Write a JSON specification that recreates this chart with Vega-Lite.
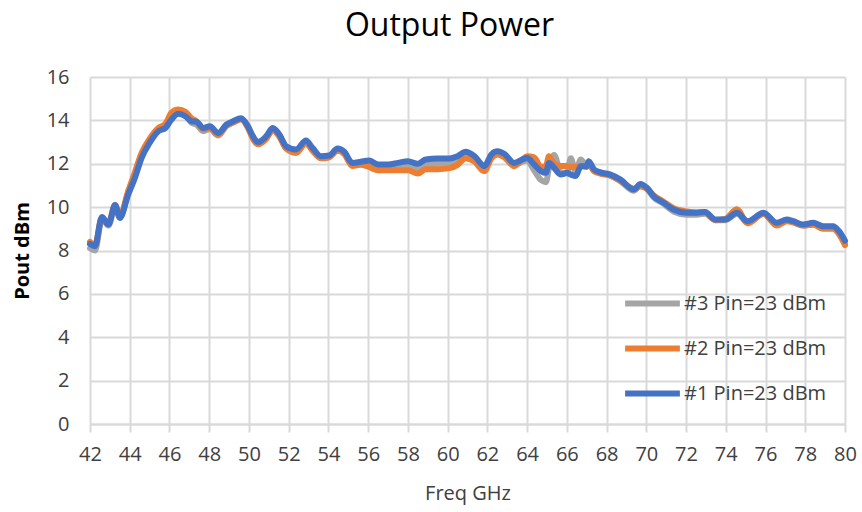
{
  "$schema": "https://vega.github.io/schema/vega-lite/v6.json",
  "autosize": "none",
  "width": 755,
  "height": 347,
  "padding": {"left": 90, "top": 77, "right": 17, "bottom": 88},
  "background": "white",
  "config": {
    "view": {"stroke": null},
    "font": "Open Sans"
  },
  "title": {
    "text": "Output Power",
    "fontSize": 32,
    "font": "Open Sans",
    "fontWeight": "normal",
    "color": "#000000",
    "anchor": "middle",
    "dx": -18,
    "offset": 24
  },
  "data": {
    "values": [
      {"f":42.0,"b":8.3,"o":8.4,"g":8.1},
      {"f":42.25,"b":8.2,"o":8.25,"g":8.0},
      {"f":42.6,"b":9.55,"o":9.5,"g":9.45},
      {"f":42.93,"b":9.2,"o":9.25,"g":9.15},
      {"f":43.26,"b":10.1,"o":10.1,"g":10.0},
      {"f":43.5,"b":9.5,"o":9.6,"g":9.55},
      {"f":43.93,"b":10.6,"o":10.75,"g":10.7},
      {"f":44.26,"b":11.35,"o":11.6,"g":11.55},
      {"f":44.6,"b":12.27,"o":12.5,"g":12.45},
      {"f":45.0,"b":12.96,"o":13.15,"g":13.1},
      {"f":45.44,"b":13.5,"o":13.65,"g":13.6},
      {"f":45.8,"b":13.65,"o":13.85,"g":13.75},
      {"f":46.1,"b":14.04,"o":14.35,"g":14.2},
      {"f":46.44,"b":14.3,"o":14.5,"g":14.35},
      {"f":46.8,"b":14.19,"o":14.4,"g":14.25},
      {"f":47.1,"b":13.96,"o":14.1,"g":13.9},
      {"f":47.37,"b":13.93,"o":13.95,"g":13.8},
      {"f":47.7,"b":13.65,"o":13.6,"g":13.5},
      {"f":48.03,"b":13.73,"o":13.65,"g":13.6},
      {"f":48.45,"b":13.42,"o":13.35,"g":13.3},
      {"f":48.87,"b":13.81,"o":13.75,"g":13.75},
      {"f":49.2,"b":13.96,"o":13.9,"g":13.9},
      {"f":49.6,"b":14.1,"o":14.05,"g":14.05},
      {"f":49.95,"b":13.73,"o":13.65,"g":13.7},
      {"f":50.2,"b":13.27,"o":13.15,"g":13.2},
      {"f":50.45,"b":13.0,"o":12.9,"g":12.95},
      {"f":50.87,"b":13.27,"o":13.15,"g":13.2},
      {"f":51.2,"b":13.65,"o":13.55,"g":13.6},
      {"f":51.53,"b":13.35,"o":13.25,"g":13.3},
      {"f":51.87,"b":12.81,"o":12.7,"g":12.75},
      {"f":52.37,"b":12.66,"o":12.5,"g":12.6},
      {"f":52.87,"b":13.07,"o":12.95,"g":13.0},
      {"f":53.2,"b":12.73,"o":12.6,"g":12.65},
      {"f":53.62,"b":12.35,"o":12.25,"g":12.3},
      {"f":54.04,"b":12.38,"o":12.3,"g":12.35},
      {"f":54.46,"b":12.7,"o":12.6,"g":12.65},
      {"f":54.8,"b":12.55,"o":12.45,"g":12.5},
      {"f":55.2,"b":12.04,"o":11.9,"g":11.95},
      {"f":55.62,"b":12.09,"o":11.95,"g":12.0},
      {"f":56.04,"b":12.15,"o":11.85,"g":12.0},
      {"f":56.5,"b":11.97,"o":11.7,"g":11.85},
      {"f":57.0,"b":11.97,"o":11.7,"g":11.85},
      {"f":57.5,"b":12.04,"o":11.7,"g":11.9},
      {"f":58.0,"b":12.12,"o":11.7,"g":11.95},
      {"f":58.5,"b":12.0,"o":11.55,"g":11.8},
      {"f":58.9,"b":12.2,"o":11.75,"g":11.95},
      {"f":59.5,"b":12.24,"o":11.75,"g":12.0},
      {"f":60.1,"b":12.24,"o":11.8,"g":12.05},
      {"f":60.5,"b":12.35,"o":11.95,"g":12.15},
      {"f":60.9,"b":12.55,"o":12.25,"g":12.4},
      {"f":61.35,"b":12.35,"o":12.1,"g":12.2},
      {"f":61.85,"b":11.89,"o":11.66,"g":11.75},
      {"f":62.2,"b":12.43,"o":12.25,"g":12.3},
      {"f":62.5,"b":12.58,"o":12.43,"g":12.5},
      {"f":62.85,"b":12.46,"o":12.3,"g":12.35},
      {"f":63.35,"b":12.04,"o":11.89,"g":11.95},
      {"f":63.77,"b":12.2,"o":12.2,"g":12.1},
      {"f":64.0,"b":12.27,"o":12.35,"g":12.15},
      {"f":64.35,"b":11.97,"o":12.3,"g":11.7},
      {"f":64.7,"b":11.66,"o":11.85,"g":11.25},
      {"f":64.95,"b":11.58,"o":11.9,"g":11.15},
      {"f":65.1,"b":12.04,"o":12.35,"g":11.8},
      {"f":65.36,"b":11.81,"o":12.0,"g":12.4},
      {"f":65.7,"b":11.5,"o":11.9,"g":11.6},
      {"f":66.0,"b":11.58,"o":11.9,"g":11.55},
      {"f":66.2,"b":11.5,"o":11.85,"g":12.25},
      {"f":66.45,"b":11.43,"o":11.85,"g":11.6},
      {"f":66.7,"b":11.89,"o":11.9,"g":12.2},
      {"f":67.0,"b":11.89,"o":11.85,"g":11.9},
      {"f":67.1,"b":12.12,"o":12.0,"g":12.0},
      {"f":67.37,"b":11.74,"o":11.65,"g":11.7},
      {"f":67.7,"b":11.6,"o":11.55,"g":11.55},
      {"f":68.2,"b":11.5,"o":11.45,"g":11.45},
      {"f":68.7,"b":11.27,"o":11.2,"g":11.2},
      {"f":69.37,"b":10.81,"o":10.85,"g":10.75},
      {"f":69.7,"b":11.07,"o":10.95,"g":11.0},
      {"f":70.03,"b":10.89,"o":10.85,"g":10.85},
      {"f":70.37,"b":10.5,"o":10.55,"g":10.45},
      {"f":70.87,"b":10.2,"o":10.25,"g":10.15},
      {"f":71.37,"b":9.89,"o":9.95,"g":9.8},
      {"f":72.04,"b":9.74,"o":9.8,"g":9.65},
      {"f":72.55,"b":9.74,"o":9.75,"g":9.65},
      {"f":72.96,"b":9.78,"o":9.75,"g":9.7},
      {"f":73.47,"b":9.43,"o":9.4,"g":9.4},
      {"f":73.97,"b":9.43,"o":9.45,"g":9.4},
      {"f":74.56,"b":9.74,"o":9.9,"g":9.7},
      {"f":75.1,"b":9.35,"o":9.25,"g":9.3},
      {"f":75.9,"b":9.74,"o":9.7,"g":9.7},
      {"f":76.56,"b":9.28,"o":9.15,"g":9.2},
      {"f":77.07,"b":9.43,"o":9.35,"g":9.4},
      {"f":77.4,"b":9.35,"o":9.3,"g":9.3},
      {"f":77.9,"b":9.2,"o":9.15,"g":9.15},
      {"f":78.4,"b":9.28,"o":9.2,"g":9.2},
      {"f":78.9,"b":9.12,"o":9.0,"g":9.05},
      {"f":79.4,"b":9.12,"o":9.0,"g":9.05},
      {"f":79.7,"b":8.89,"o":8.75,"g":8.8},
      {"f":80.0,"b":8.45,"o":8.25,"g":8.3}
    ]
  },
  "transform": [
    {"fold": ["g", "o", "b"], "as": ["s", "p"]}
  ],
  "encoding": {
    "x": {
      "field": "f",
      "type": "quantitative",
      "scale": {"domain": [42, 80], "nice": false, "zero": false},
      "axis": {
        "title": "Freq GHz",
        "values": [42,44,46,48,50,52,54,56,58,60,62,64,66,68,70,72,74,76,78,80],
        "grid": true,
        "gridColor": "#d9d9d9",
        "gridWidth": 2,
        "domain": true,
        "domainColor": "#d9d9d9",
        "domainWidth": 2,
        "ticks": true,
        "tickColor": "#d9d9d9",
        "tickWidth": 2,
        "tickSize": 8,
        "labelFlush": false,
        "labelOverlap": false,
        "labelFont": "Open Sans",
        "labelFontSize": 20,
        "labelColor": "#404040",
        "labelPadding": 12,
        "titleFont": "Open Sans",
        "titleFontSize": 20,
        "titleFontWeight": "normal",
        "titleColor": "#404040",
        "titlePadding": 19
      }
    },
    "y": {
      "field": "p",
      "type": "quantitative",
      "scale": {"domain": [0, 16], "nice": false},
      "axis": {
        "title": "Pout dBm",
        "values": [0,2,4,6,8,10,12,14,16],
        "grid": true,
        "gridColor": "#d9d9d9",
        "gridWidth": 2,
        "domain": false,
        "ticks": false,
        "labelFlush": false,
        "labelFont": "Open Sans",
        "labelFontSize": 20,
        "labelColor": "#404040",
        "labelPadding": 21,
        "titleFont": "Open Sans",
        "titleFontSize": 20,
        "titleFontWeight": "bold",
        "titleColor": "#000000",
        "titlePadding": 14
      }
    },
    "color": {
      "field": "s",
      "type": "nominal",
      "scale": {
        "domain": ["g", "o", "b"],
        "range": ["#A5A5A5", "#ED7D31", "#4472C4"]
      },
      "legend": {
        "title": null,
        "orient": "none",
        "legendX": 532,
        "legendY": 204,
        "symbolType": "stroke",
        "symbolStrokeWidth": 6,
        "symbolSize": 3000,
        "clipHeight": 45,
        "rowPadding": 0,
        "labelFont": "Open Sans",
        "labelFontSize": 20,
        "labelColor": "#404040",
        "labelOffset": 1,
        "labelLimit": 300,
        "labelExpr": "datum.value == 'g' ? '#3 Pin=23 dBm' : datum.value == 'o' ? '#2 Pin=23 dBm' : '#1 Pin=23 dBm'"
      }
    }
  },
  "layer": [
    {
      "transform": [{"filter": "datum.s == 'g'"}],
      "mark": {"type": "line", "strokeWidth": 6, "interpolate": "monotone", "strokeCap": "round", "strokeJoin": "round"}
    },
    {
      "transform": [{"filter": "datum.s == 'o'"}],
      "mark": {"type": "line", "strokeWidth": 6, "interpolate": "monotone", "strokeCap": "round", "strokeJoin": "round"}
    },
    {
      "transform": [{"filter": "datum.s == 'b'"}],
      "mark": {"type": "line", "strokeWidth": 6, "interpolate": "monotone", "strokeCap": "round", "strokeJoin": "round"}
    }
  ]
}
